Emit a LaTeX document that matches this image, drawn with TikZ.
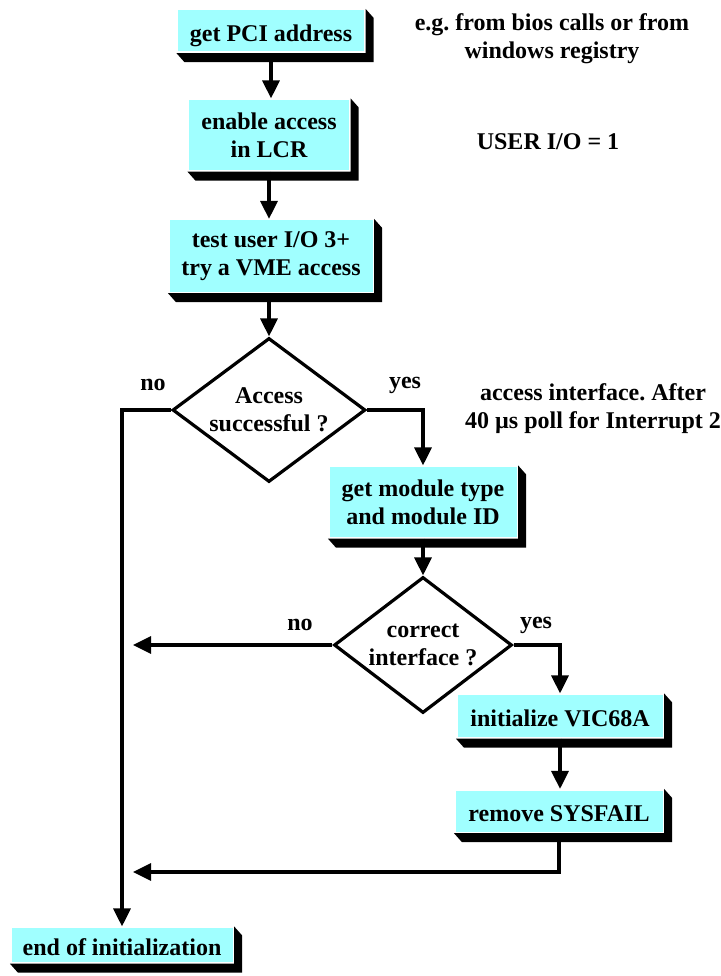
\documentclass[tikz,border=0pt]{standalone}
\usepackage{fontspec}
\setmainfont{Liberation Serif}
\usetikzlibrary{shapes.geometric,arrows.meta}

% black 3D edge to the right of and below a box
\newcommand{\extrude}[1]{%
  \fill[black] (#1.north east) -- ++(8,9) -- ([shift={(8,9)}]#1.south east)
    -- ([shift={(8,9)}]#1.south west) -- (#1.south west) -- (#1.south east) -- cycle;}

\begin{document}
\begin{tikzpicture}[x=1pt, y=-1pt, line width=3.2pt,
    font=\fontsize{24}{28}\selectfont\bfseries,
    stepbox/.style={fill=boxcyan, inner sep=0pt, align=center},
    oneline/.style={text height=21pt, text depth=0pt},
    decision/.style={draw, diamond, inner sep=0pt, minimum width=193pt, minimum height=144pt},
    flow/.style={-{Triangle[length=18pt,width=17pt]}}]
    % Define custom colors
    \definecolor{boxcyan}{RGB}{160,255,255}

    \useasboundingbox (0,0) rectangle (720,976);

    % Steps down to the first test
    \node[stepbox, oneline, minimum width=186pt, minimum height=41pt] (pci) at (271,31) {get PCI address};
    \node[stepbox, minimum width=160pt, minimum height=70pt] (lcr) at (269,135) {enable access\\in LCR};
    \node[stepbox, minimum width=203pt, minimum height=71pt] (vme) at (271,256) {test user I/O 3+\\try a VME access};
    \extrude{pci}
    \extrude{lcr}
    \extrude{vme}

    % Access successful ?
    \node[decision, label={[align=center]center:{Access\\successful ?}}] (access) at (269,410) {};
    \node (accno) at (153,385) {no};
    \node (accyes) at (405,385) {yes};

    % Module type
    \node[stepbox, minimum width=187pt, minimum height=70pt] (module) at (423,502) {get module type\\and module ID};
    \extrude{module}

    % correct interface ?
    \node[decision, minimum width=178pt, minimum height=136pt,
        label={[align=center]center:{correct\\interface ?}}] (iface) at (423,645) {};
    \node (ifno) at (300,625) {no};
    \node (ifyes) at (536,625) {yes};

    % Setup of the interface
    \node[stepbox, oneline, minimum width=205pt, minimum height=42pt] (vic) at (560,716) {initialize VIC68A};
    \node[stepbox, oneline, minimum width=207pt, minimum height=41pt] (sysfail) at (559,811) {remove SYSFAIL};
    \extrude{vic}
    \extrude{sysfail}

    % End
    \node[stepbox, oneline, minimum width=221pt, minimum height=34pt] (done) at (122,945) {end of initialization};
    \extrude{done}

    % Notes on the right
    \node[align=center] (bios) at (552,39) {e.g.\ from bios calls or from\\windows registry};
    \node (userio) at (548,142) {USER I/O = 1};
    \node[align=center] (irq) at (593,409) {access interface.\ After\\40 µs poll for Interrupt 2};

    % Connectors
    \coordinate (noend) at (133,645);
    \coordinate (backend) at (133,872);
    \draw[flow] (pci.south) -- (pci.south |- lcr.north);
    \draw[flow] (lcr.south) -- (lcr.south |- vme.north);
    \draw[flow] (vme.south -| access.north) -- (access.north);
    \draw[flow] (access.west) -| (done.north);
    \draw[flow] (access.east) -| (module.north);
    \draw[flow] (module.south) -- (iface.north);
    \draw[flow] (iface.west) -- (noend);
    \draw[flow] (iface.east) -| (vic.north);
    \draw[flow] (vic.south) -- (vic.south |- sysfail.north);
    \draw[flow] (sysfail.south) |- (backend);
\end{tikzpicture}
\end{document}
